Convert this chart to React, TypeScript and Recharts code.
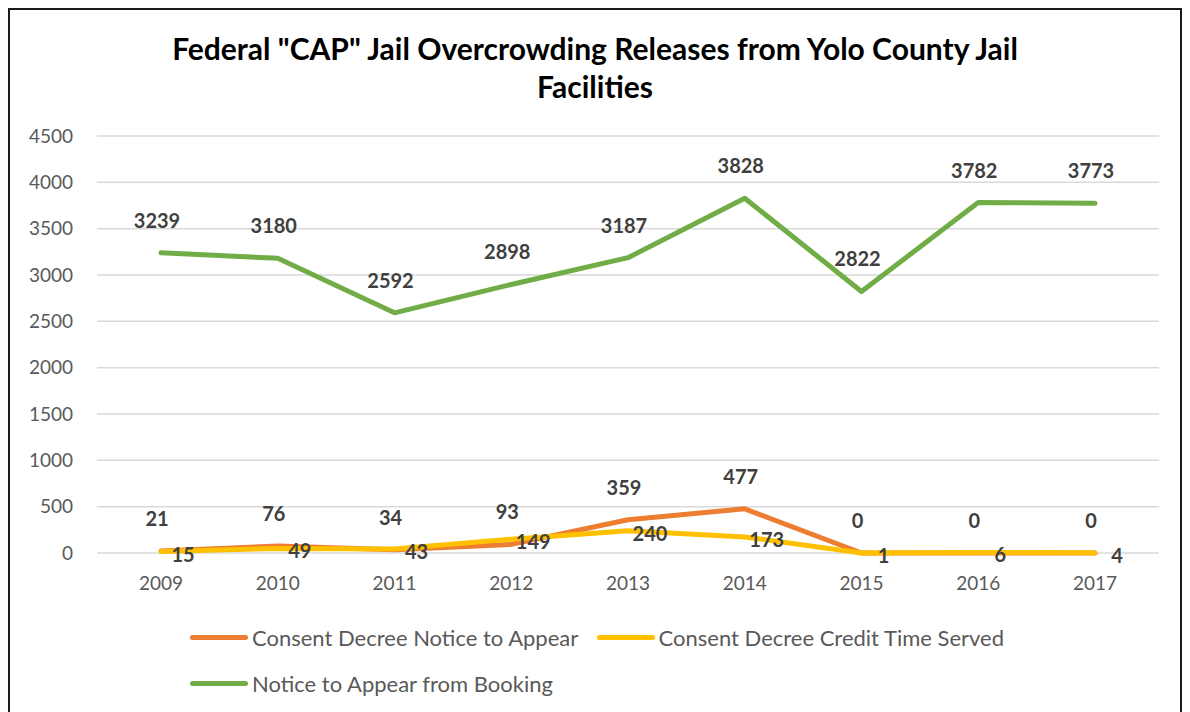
import { LineChart, Line, XAxis, YAxis, CartesianGrid, Legend, LabelList } from "recharts";

const years = ["2009", "2010", "2011", "2012", "2013", "2014", "2015", "2016", "2017"];
const noticeToAppear = [21, 76, 34, 93, 359, 477, 0, 0, 0];
const creditTimeServed = [15, 49, 43, 149, 240, 173, 1, 6, 4];
const bookingNotice = [3239, 3180, 2592, 2898, 3187, 3828, 2822, 3782, 3773];
const yTicks = [0, 500, 1000, 1500, 2000, 2500, 3000, 3500, 4000, 4500];

const seriesNames = {
  nta: "Consent Decree Notice to Appear",
  cts: "Consent Decree Credit Time Served",
  book: "Notice to Appear from Booking",
};
const legendOrder = [seriesNames.nta, seriesNames.cts, seriesNames.book];

const data = years.map((year, i) => ({
  year,
  nta: noticeToAppear[i],
  cts: creditTimeServed[i],
  book: bookingNotice[i],
}));

const FONT = "Lato, 'Open Sans', sans-serif";

// data label placed relative to the point
const makeLabel = (dx: number, dy: number) => (props: any) => {
  const { x, y, value } = props;
  return (
    <text
      x={x + dx}
      y={y + dy}
      textAnchor="middle"
      dominantBaseline="central"
      fontFamily={FONT}
      fontSize={20}
      fontWeight={700}
      fill="#404040"
    >
      {value}
    </text>
  );
};

const renderLegend = (props: any) => {
  const items = [...(props.payload || [])].sort(
    (a: any, b: any) => legendOrder.indexOf(a.value) - legendOrder.indexOf(b.value)
  );
  return (
    <div style={{ display: "flex", flexWrap: "wrap", width: 830, fontFamily: FONT }}>
      {items.map((p: any) => (
        <div key={p.value} style={{ width: 407, height: 46, display: "flex", alignItems: "center" }}>
          <span
            style={{
              display: "inline-block",
              width: 58,
              height: 5,
              borderRadius: 3,
              background: p.color,
              marginRight: 4,
            }}
          />
          <span style={{ fontSize: 22, color: "#595959", whiteSpace: "nowrap" }}>{p.value}</span>
        </div>
      ))}
    </div>
  );
};

export default function App() {
  return (
    <div
      style={{
        position: "relative",
        width: 1174,
        height: 712,
        boxSizing: "border-box",
        border: "2px solid #1a1a1a",
        background: "#fff",
      }}
    >
      <div
        style={{
          position: "absolute",
          top: 19,
          left: 0,
          width: "100%",
          textAlign: "center",
          fontFamily: FONT,
          fontWeight: 700,
          fontSize: 30,
          lineHeight: "38px",
          color: "#000",
        }}
      >
        Federal "CAP" Jail Overcrowding Releases from Yolo County Jail
        <br />
        Facilities
      </div>
      <div style={{ position: "absolute", top: 0, left: 0 }}>
        <LineChart
          width={1170}
          height={700}
          data={data}
          margin={{ top: 126, right: 21, left: 0, bottom: 127 }}
        >
          <CartesianGrid vertical={false} stroke="#d9d9d9" strokeWidth={1.5} />
          <XAxis
            dataKey="year"
            axisLine={false}
            tickLine={false}
            padding={{ left: 64, right: 64 }}
            tickMargin={18}
            tick={{ fontFamily: FONT, fontSize: 19, fill: "#595959" }}
          />
          <YAxis
            width={87}
            domain={[0, 4500]}
            ticks={yTicks}
            axisLine={false}
            tickLine={false}
            tickMargin={18}
            tick={{ fontFamily: FONT, fontSize: 19, fill: "#595959" }}
          />
          <Legend
            layout="horizontal"
            verticalAlign="middle"
            align="center"
            wrapperStyle={{ left: 180, top: 604, width: 830 }}
            content={renderLegend}
          />
          <Line
            dataKey="nta"
            name={seriesNames.nta}
            stroke="#ed7d31"
            strokeWidth={5}
            strokeLinecap="round"
            strokeLinejoin="round"
            dot={false}
            isAnimationActive={false}
          >
            <LabelList dataKey="nta" content={makeLabel(-4, -33)} />
          </Line>
          <Line
            dataKey="cts"
            name={seriesNames.cts}
            stroke="#ffc000"
            strokeWidth={5}
            strokeLinecap="round"
            strokeLinejoin="round"
            dot={false}
            isAnimationActive={false}
          >
            <LabelList dataKey="cts" content={makeLabel(22, 2)} />
          </Line>
          <Line
            dataKey="book"
            name={seriesNames.book}
            stroke="#70ad47"
            strokeWidth={5}
            strokeLinecap="round"
            strokeLinejoin="round"
            dot={false}
            isAnimationActive={false}
          >
            <LabelList dataKey="book" content={makeLabel(-4, -33)} />
          </Line>
        </LineChart>
      </div>
    </div>
  );
}
